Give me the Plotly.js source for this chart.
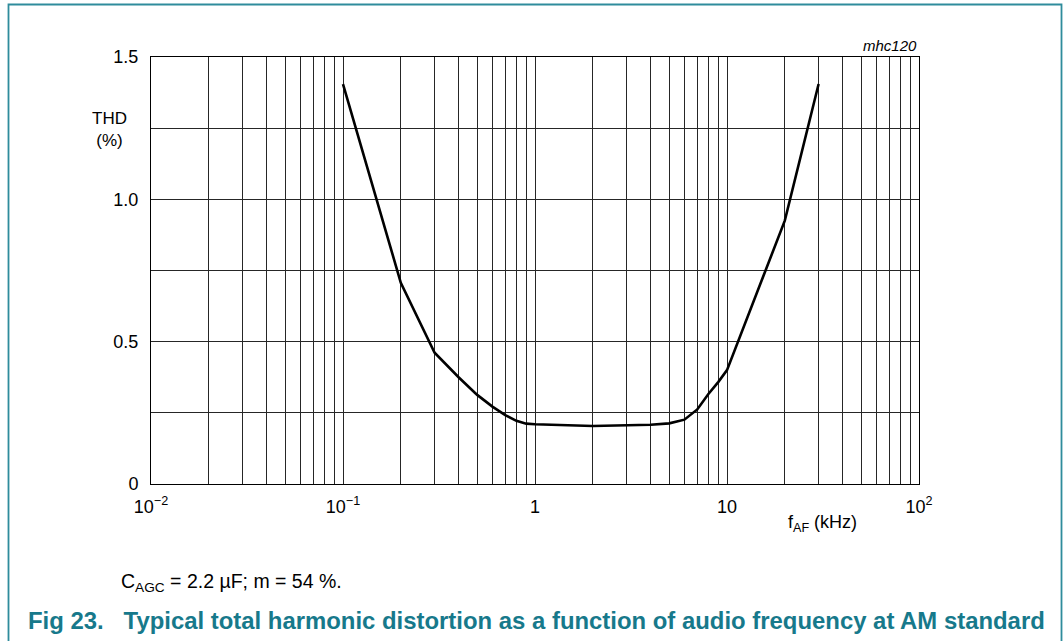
<!DOCTYPE html>
<html>
<head>
<meta charset="utf-8">
<script src="https://cdn.plot.ly/plotly-3.0.1.min.js"></script>
<style>
  html, body { margin: 0; padding: 0; background: #fff; }
  #chart { width: 1063px; height: 641px; }
</style>
</head>
<body>
<div id="chart"></div>
<script>
// Data (frequency in kHz, THD in %)
const freqKHz = [0.1, 0.2, 0.3, 0.4, 0.5, 0.6, 0.7, 0.8, 0.9, 1, 2, 3, 4, 5, 6, 7, 8, 9, 10, 20, 30];
const thdPct  = [1.405, 0.707, 0.461, 0.375, 0.313, 0.272, 0.242, 0.222, 0.212, 0.21, 0.204, 0.205, 0.208, 0.213, 0.226, 0.262, 0.316, 0.358, 0.40, 0.925, 1.405];

// Axis ticks
const xMajorVals = [0.01, 0.1, 1, 10, 100];
const xMajorText = ["10<sup>\u22122</sup>", "10<sup>\u22121</sup>", "1", "10", "10<sup>2</sup>"];
const yTickVals = [0, 0.25, 0.5, 0.75, 1.0, 1.25, 1.5];
const yTickText = ["0", "", "0.5", "", "1.0", "", "1.5"];

// Build grid positions 1..9 per decade (labels only on decades)
const xGridVals = [];
const xGridText = [];
for (let d = -2; d <= 2; d++) {
  for (let m = 1; m <= 9; m++) {
    if (d === 2 && m > 1) break;
    const v = m * Math.pow(10, d);
    xGridVals.push(v);
    const idx = xMajorVals.findIndex(t => Math.abs(t - v) < 1e-12);
    xGridText.push(idx >= 0 ? xMajorText[idx] : "");
  }
}

const FONT = "Liberation Sans, Arial, sans-serif";
const TEAL = "#17798b";

const trace = {
  x: freqKHz,
  y: thdPct,
  type: "scatter",
  mode: "lines",
  line: { color: "#000", width: 2.6, shape: "linear" },
  hoverinfo: "skip",
  showlegend: false
};

const layout = {
  width: 1063,
  height: 641,
  margin: { l: 151, r: 144, t: 57, b: 157 },
  paper_bgcolor: "#fff",
  plot_bgcolor: "#fff",
  font: { family: FONT, size: 18, color: "#000" },
  xaxis: {
    type: "log",
    range: [-2, 2],
    tickmode: "array",
    tickvals: xGridVals,
    ticktext: xGridText,
    showgrid: true,
    gridcolor: "#262626",
    gridwidth: 1,
    zeroline: false,
    showline: true,
    linecolor: "#000",
    linewidth: 1,
    mirror: true,
    ticks: "outside",
    ticklen: 6,
    tickcolor: "rgba(0,0,0,0)",
    tickfont: { family: FONT, size: 18, color: "#000" },
    fixedrange: true
  },
  yaxis: {
    range: [0, 1.5],
    tickmode: "array",
    tickvals: yTickVals,
    ticktext: yTickText,
    showgrid: true,
    gridcolor: "#262626",
    gridwidth: 1,
    zeroline: false,
    showline: true,
    linecolor: "#000",
    linewidth: 1,
    mirror: true,
    ticks: "outside",
    ticklen: 8,
    tickcolor: "rgba(0,0,0,0)",
    tickfont: { family: FONT, size: 18, color: "#000" },
    fixedrange: true
  },
  annotations: [
    { text: "THD<br>(%)", xref: "paper", yref: "paper", x: (109 - 151) / 768, y: (484 - 129) / 427,
      showarrow: false, xanchor: "center", yanchor: "middle", align: "center",
      font: { family: FONT, size: 17, color: "#000" } },
    { text: "f<sub>AF</sub> (kHz)", xref: "paper", yref: "paper", x: (822 - 151) / 768, y: (484 - 523) / 427,
      showarrow: false, xanchor: "center", yanchor: "middle",
      font: { family: FONT, size: 18, color: "#000" } },
    { text: "<i>mhc120</i>", xref: "paper", yref: "paper", x: 1, y: (484 - 46) / 427,
      showarrow: false, xanchor: "right", yanchor: "middle",
      font: { family: FONT, size: 15, color: "#000" } },
    { text: "C<sub>AGC</sub> = 2.2 \u00b5F; m = 54 %.", xref: "paper", yref: "paper", x: (119 - 151) / 768, y: (484 - 582) / 427,
      showarrow: false, xanchor: "left", yanchor: "middle",
      font: { family: FONT, size: 19.5, color: "#000" } },
    { text: "<b>Fig 23.\u00a0\u00a0\u00a0Typical total harmonic distortion as a function of audio frequency at AM standard</b>",
      xref: "paper", yref: "paper", x: (26 - 151) / 768, y: (484 - 620) / 427,
      showarrow: false, xanchor: "left", yanchor: "middle",
      font: { family: FONT, size: 23.9, color: TEAL } }
  ],
  shapes: [
    { type: "rect", xref: "paper", yref: "paper",
      x0: (8.5 - 151) / 768, x1: (1061.5 - 151) / 768,
      y0: (484 - 700) / 427, y1: (484 - 4.5) / 427,
      line: { color: "#2f8c9c", width: 1.8 }, fillcolor: "rgba(0,0,0,0)", layer: "above" }
  ]
};

Plotly.newPlot("chart", [trace], layout, { staticPlot: true, displayModeBar: false });
</script>
</body>
</html>
